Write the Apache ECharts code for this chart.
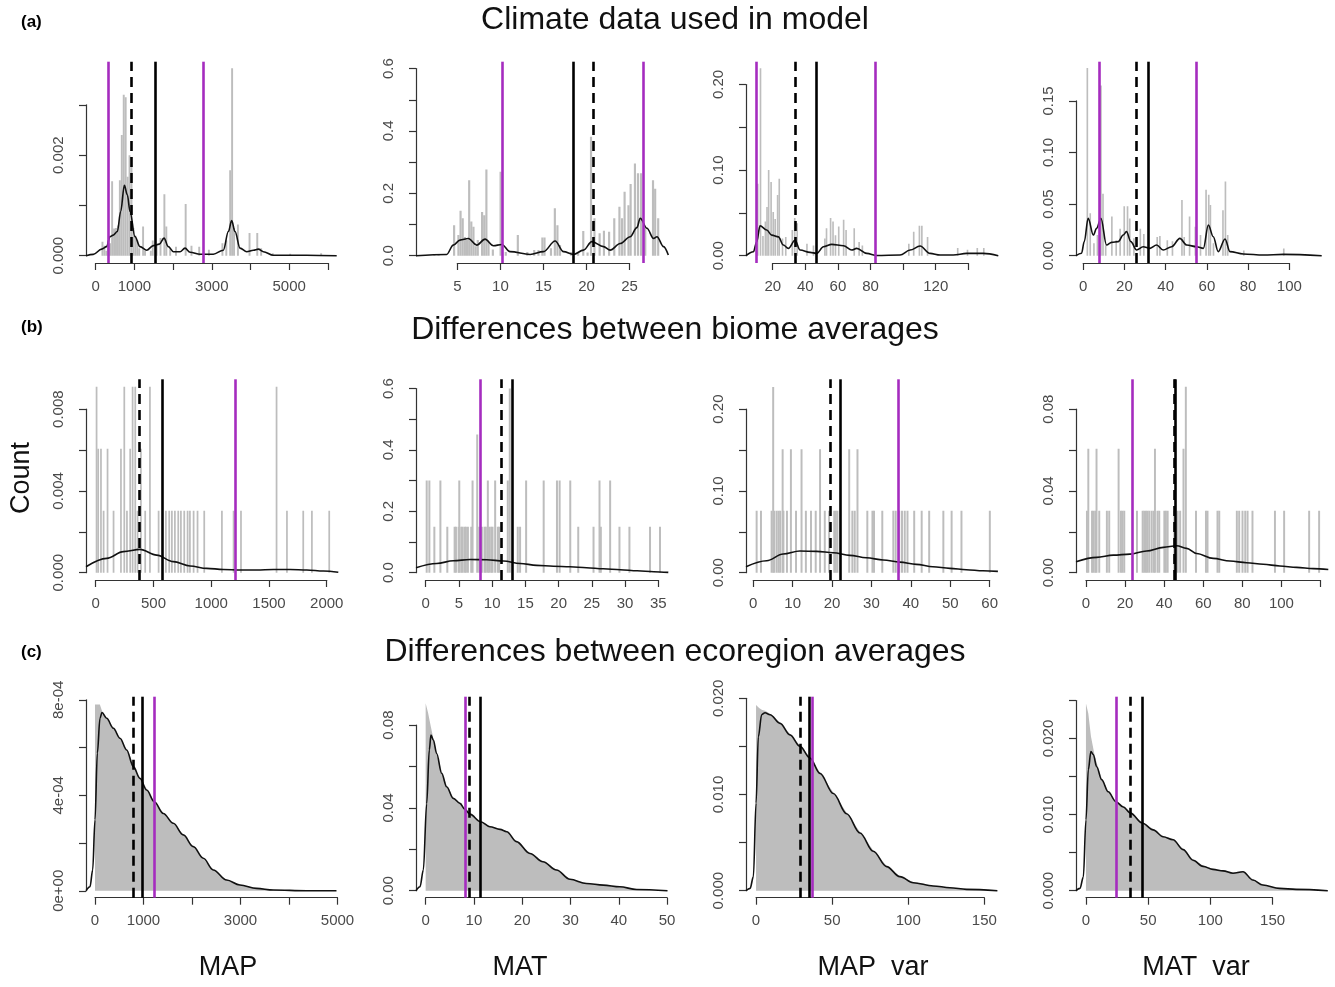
<!DOCTYPE html>
<html>
<head>
<meta charset="utf-8">
<script src="https://cdn.jsdelivr.net/npm/echarts@6/dist/echarts.min.js"></script>
<style>html,body{margin:0;padding:0;background:#fff}#c{width:1335px;height:987px}</style>
</head>
<body>
<div id="c"></div>
<script>
// ================= DATA =================
const rowTitles = ['Climate data used in model', 'Differences between biome averages', 'Differences between ecoregion averages'];
const rowTags = ['(a)', '(b)', '(c)'];
const varNames = ['MAP', 'MAT', 'MAP  var', 'MAT  var'];
const yTitle = 'Count';

// ---- row (a): histogram bins [start, density], bin widths, density curves
const histA1 = [[150,0.00028],[200,0.0002],[250,0.0001],[300,0.0003],[350,0.00025],[400,0.00148],[450,0.00054],[500,0.00055],[550,0.0006],[600,0.0015],[650,0.0024],[700,0.0032],[750,0.00315],[800,0.00157],[850,0.002],[900,0.0018],[950,0.00055],[1000,0.0004],[1050,0.00031],[1100,0.00015],[1200,0.00058],[1250,0.0001],[1400,0.0001],[1450,0.0003],[1550,0.0002],[1650,0.00035],[1750,0.00122],[1800,0.00058],[1900,0.00015],[2050,0.00018],[2300,0.00103],[2450,0.0002],[2650,0.00018],[2900,0.00012],[3250,0.00025],[3350,0.0003],[3450,0.0017],[3500,0.00373],[3550,0.00055],[3650,0.00062],[3950,0.00045],[4150,0.00045],[4250,0.00015],[4550,0.00005],[5000,0.00004],[5800,0.00005]];
const histA2 = [[2.2,0.004],[2.7,0.004],[4.5,0.098],[5.0,0.066],[5.25,0.144],[5.5,0.12],[5.75,0.06],[6.0,0.05],[6.25,0.242],[6.5,0.11],[6.75,0.093],[7.0,0.03],[7.25,0.05],[7.75,0.14],[8.0,0.13],[8.25,0.276],[8.5,0.045],[9.0,0.02],[9.9,0.269],[10.5,0.012],[11.9,0.066],[13.0,0.012],[13.8,0.018],[14.3,0.018],[14.75,0.058],[15.0,0.058],[15.75,0.024],[16.2,0.152],[16.5,0.098],[16.8,0.034],[18.1,0.012],[18.9,0.012],[19.5,0.079],[20.0,0.01],[20.4,0.381],[20.8,0.12],[21.4,0.072],[21.9,0.08],[22.5,0.077],[23.1,0.12],[23.7,0.157],[24.0,0.12],[24.3,0.205],[24.75,0.162],[25.0,0.23],[25.5,0.296],[25.85,0.264],[26.2,0.264],[26.7,0.088],[27.6,0.242],[27.85,0.215],[28.2,0.12]];
const histA3 = [[10.3,0.084],[12,0.219],[13.5,0.023],[15,0.04],[16,0.057],[17,0.1],[18.5,0.086],[19.8,0.051],[21,0.043],[22.5,0.071],[23.5,0.09],[25.5,0.02],[27.5,0.022],[31.5,0.03],[33,0.044],[34.5,0.038],[40.5,0.014],[44.5,0.012],[51.5,0.02],[52.5,0.032],[55,0.044],[56.5,0.04],[58,0.024],[60,0.034],[63,0.042],[64.5,0.03],[69.5,0.032],[72.5,0.016],[74.5,0.012],[103,0.014],[106,0.028],[109.5,0.035],[111,0.035],[114.5,0.022],[133,0.009],[139,0.007],[145,0.009],[149,0.009]];
const histA4 = [[1.6,0.182],[3.0,0.041],[4.8,0.012],[6.5,0.02],[8.2,0.165],[9.2,0.06],[10.5,0.01],[13.5,0.038],[15.6,0.015],[17.5,0.026],[19.5,0.048],[21.1,0.048],[22.2,0.036],[24.2,0.017],[27.3,0.026],[29,0.021],[35.5,0.018],[36.8,0.019],[40.4,0.015],[42.9,0.014],[47.5,0.054],[48.6,0.018],[51.2,0.038],[54,0.028],[56.5,0.02],[59.2,0.064],[60.5,0.059],[61.3,0.049],[62.8,0.012],[67.4,0.044],[68.6,0.072],[69.7,0.02],[77.5,0.005],[96.9,0.007]];
const binWA = [50, 0.25, 1.0, 0.8];

const densA1 = [[-250,0],[-60,0.000027],[155,0.00013],[284,0.00018],[370,0.00038],[456,0.00041],[560,0.00048],[646,0.00088],[741,0.0014],[818,0.00121],[887,0.00088],[1016,0.00038],[1146,0.00018],[1318,0.00011],[1490,0.0002],[1645,0.00023],[1766,0.00035],[1878,0.00018],[2007,0.00008],[2179,0.00008],[2308,0.00015],[2438,0.00007],[2696,0.00003],[3040,0.00003],[3299,0.00011],[3428,0.00048],[3514,0.0007],[3600,0.00048],[3730,0.00015],[3902,0.00008],[4074,0.00011],[4203,0.00013],[4332,0.00008],[4591,0.00001],[5452,0.00001],[6227,0]];
const densA2 = [[0.2,0],[3.76,0.004],[4.53,0.034],[5.31,0.05],[6.28,0.055],[7.25,0.034],[8.22,0.053],[9.19,0.032],[10.16,0.036],[11.12,0.013],[13.45,0.004],[15.0,0.013],[16.36,0.047],[17.33,0.013],[18.49,0.004],[19.65,0.018],[20.62,0.045],[21.98,0.029],[22.75,0.018],[23.91,0.039],[25.08,0.061],[25.85,0.09],[26.24,0.12],[27.02,0.088],[27.79,0.055],[28.18,0.061],[28.95,0.029],[29.5,0.002]];
const densA3 = [[3.6,0],[8.14,0.0047],[10.2,0.0163],[12.2,0.035],[16.3,0.03],[19.4,0.024],[23.5,0.022],[26.5,0.0125],[29.6,0.0086],[33.7,0.018],[36.8,0.0066],[42.9,0.0039],[47,0.0027],[51.1,0.0105],[56.2,0.0132],[63.4,0.0117],[68.5,0.0066],[71.5,0.0086],[77.7,0.0027],[83.8,0.0003],[98.1,0.0008],[104.3,0.0066],[110.4,0.0113],[116.5,0.0027],[122.7,0.0008],[130.8,0.0008],[139,0.0027],[149.2,0.0027],[158.4,0]];
const densA4 = [[-3.5,0],[-0.8,0.0023],[0.5,0.0136],[2.4,0.0362],[4.9,0.02],[6.5,0.0265],[8.6,0.0362],[11.3,0.0103],[13.8,0.0129],[17,0.0136],[19.4,0.02],[21,0.0233],[23.1,0.0136],[25.9,0.0055],[29.1,0.0087],[32.4,0.0071],[35.6,0.0103],[38.8,0.0055],[42.9,0.0087],[46.9,0.0168],[50.2,0.0103],[55,0.0087],[58.3,0.0071],[60.7,0.0297],[63.1,0.0184],[65.5,0.0039],[68.8,0.0162],[71.2,0.0039],[77.7,0.0016],[87.4,0.0006],[97.1,0.0013],[115.7,0]];

// ---- row (b)
const histB1 = [[0,0.0091],[14,0.00606],[38,0.00606],[61,0.00303],[95,0.00606],[147,0.00303],[211,0.00606],[240,0.0091],[263,0.00303],[291,0.00606],[312,0.0091],[335,0.0091],[355,0.00303],[384,0.00606],[421,0.00303],[462,0.0091],[537,0.00303],[600,0.00303],[629,0.00303],[652,0.00303],[678,0.00303],[707,0.00303],[730,0.00303],[759,0.00303],[788,0.00303],[808,0.00303],[840,0.00303],[874,0.00303],[932,0.00303],[1085,0.00303],[1186,0.00303],[1250,0.00303],[1558,0.0091],[1648,0.00303],[1789,0.00303],[1864,0.00303],[2014,0.00303]];
const histB2 = [[0,0.3],[0.4,0.3],[1.15,0.15],[2.06,0.3],[3.1,0.15],[4.2,0.15],[4.4,0.15],[4.8,0.15],[4.9,0.3],[5.2,0.15],[5.4,0.15],[5.7,0.15],[5.9,0.15],[6.2,0.15],[6.7,0.15],[6.9,0.3],[7.6,0.45],[7.9,0.15],[8.3,0.15],[8.7,0.15],[8.9,0.15],[9.2,0.3],[9.4,0.15],[9.7,0.15],[9.9,0.15],[10.3,0.3],[10.7,0.15],[10.9,0.15],[12.2,0.3],[12.5,0.6],[13.7,0.15],[14.05,0.15],[14.96,0.3],[17.6,0.3],[19.6,0.3],[20.0,0.3],[21.6,0.3],[22.8,0.15],[25.1,0.15],[26.0,0.3],[26.2,0.15],[27.6,0.3],[29.0,0.15],[30.5,0.15],[33.6,0.15],[35.1,0.15]];
const histB3 = [[0.6,0.0757],[1.7,0.0757],[4.4,0.0757],[4.8,0.227],[5.1,0.0757],[5.7,0.0757],[6.2,0.0757],[6.6,0.0757],[7.2,0.151],[7.4,0.0757],[8.3,0.0757],[9.3,0.151],[10.6,0.0757],[12.0,0.151],[13.1,0.0757],[14.4,0.0757],[15.6,0.0757],[16.7,0.151],[17.9,0.0757],[19.0,0.0757],[20.3,0.0757],[20.7,0.0757],[21.1,0.0757],[24.1,0.151],[24.9,0.0757],[25.5,0.0757],[26.2,0.151],[28.7,0.0757],[30.0,0.0757],[30.4,0.0757],[32.5,0.0757],[35.3,0.0757],[35.9,0.0757],[36.8,0.0757],[37.5,0.0757],[38.2,0.0757],[38.9,0.0757],[40.6,0.0757],[42.5,0.0757],[44.4,0.0757],[48.0,0.0757],[50.1,0.0757],[52.6,0.0757],[59.8,0.0757]];
const histB4 = [[0,0.0303],[0.7,0.0606],[2.6,0.0303],[3.4,0.0303],[4.3,0.0303],[4.9,0.0606],[6.3,0.0303],[10.2,0.0303],[11.4,0.0303],[16.2,0.0606],[17.4,0.0303],[18.2,0.0303],[19.1,0.0303],[25.6,0.0303],[28.5,0.0303],[29.3,0.0303],[30.2,0.0303],[31.0,0.0303],[31.9,0.0303],[33.1,0.0303],[34.1,0.0303],[34.8,0.0606],[36.1,0.0303],[37.0,0.0303],[39.6,0.0303],[40.4,0.0303],[41.3,0.0303],[44.7,0.0303],[46.4,0.0303],[47.7,0.0303],[49.4,0.0606],[50.6,0.0909],[55.8,0.0303],[60.9,0.0303],[61.7,0.0303],[66.8,0.0303],[67.7,0.0303],[76.7,0.0303],[77.9,0.0303],[79.6,0.0303],[81.0,0.0303],[82.2,0.0303],[84.7,0.0303],[96.2,0.0303],[100.9,0.0303],[113.7,0.0303],[118.8,0.0303]];
const binWB = [15, 0.3, 0.5, 1.0];

const densB1 = [[-84,0.00029],[95,0.0007],[240,0.00103],[384,0.00114],[528,0.00086],[672,0.00054],[817,0.00033],[961,0.00021],[1105,0.00016],[1250,0.00013],[1394,0.00013],[1538,0.00016],[1683,0.00016],[1827,0.00013],[1971,0.00008],[2100,0.00002]];
const densB2 = [[-1.46,0.0163],[1.66,0.03],[4.16,0.039],[6.67,0.043],[9.18,0.042],[11.7,0.038],[14.2,0.03],[16.7,0.024],[19.2,0.021],[21.7,0.0195],[24.2,0.0163],[26.7,0.013],[29.3,0.0098],[31.8,0.0065],[34.3,0.0033],[36.5,0.001]];
const densB3 = [[-1.86,0.0073],[3.4,0.0147],[7.6,0.0228],[11.8,0.0265],[16.1,0.0261],[20.3,0.0244],[24.5,0.0212],[28.7,0.0183],[33,0.0155],[37.2,0.013],[41.4,0.0102],[45.6,0.0073],[49.9,0.0053],[54.1,0.0037],[58.3,0.0024],[62.1,0.0016]];
const densB4 = [[-5.1,0.0054],[5.5,0.0075],[14,0.0086],[22.5,0.0091],[31,0.0106],[39.6,0.0124],[46.4,0.0132],[51.5,0.0119],[56.6,0.0094],[65.1,0.007],[73.7,0.0057],[82.2,0.0049],[90.7,0.0041],[99.2,0.0033],[107.8,0.0026],[116.3,0.002],[124,0.0016]];

// ---- row (c): fine histograms given as outline points [x, density]
const histC1 = [[0,0],[0,7.8e-4],[100,7.8e-4],[150,7.5e-4],[250,7.2e-4],[400,6.8e-4],[550,6.3e-4],[700,5.75e-4],[850,5.0e-4],[1000,4.5e-4],[1200,3.8e-4],[1400,3.28e-4],[1600,2.87e-4],[1800,2.4e-4],[2000,1.9e-4],[2200,1.42e-4],[2400,9.5e-5],[2700,4.8e-5],[3000,2.5e-5],[3300,1.2e-5],[3700,4e-6],[4300,1e-6],[4950,1e-6],[4950,0]];
const histC2 = [[0,0],[0,0.0905],[0.5,0.086],[1.1,0.079],[2,0.069],[3.3,0.058],[4.3,0.051],[5.7,0.045],[7.1,0.0425],[8.1,0.0395],[9.2,0.037],[11.4,0.0335],[13.3,0.031],[15.4,0.0298],[16.8,0.0287],[18.8,0.024],[21.6,0.0182],[24.3,0.0142],[27.1,0.0102],[29.9,0.0057],[33.3,0.0036],[36.8,0.0028],[40.2,0.002],[43.7,0.0007],[47,0.0002],[49.5,0.0001],[49.5,0]];
const histC3 = [[0,0],[0,0.0193],[2,0.019],[4,0.0188],[6,0.0187],[9.2,0.0184],[15.8,0.0175],[22.3,0.0163],[28.9,0.0151],[35.4,0.0139],[42,0.0123],[50.8,0.0102],[59.5,0.0081],[68.3,0.0061],[77,0.0042],[85.8,0.0026],[94.5,0.0015],[103.3,0.0009],[116.4,0.0005],[127.4,0.0003],[138.3,0.00015],[150,0.00005],[155,0.00002],[155,0]];
const histC4 = [[0,0],[0,0.0246],[1.9,0.0233],[4.0,0.0203],[7.2,0.0176],[11.3,0.0154],[12.6,0.0148],[17.9,0.0131],[24.1,0.0118],[30,0.0111],[35.8,0.0103],[45.2,0.009],[54,0.0081],[62,0.0072],[70,0.0068],[78.1,0.0055],[86.1,0.0041],[94.1,0.0033],[102.1,0.0029],[110.2,0.0027],[118.2,0.0024],[126.2,0.0026],[134.2,0.0015],[142.2,0.0008],[155.6,0.0003],[169,0.0002],[190,0.0001],[190,0]];

const densC1 = [[-185,0],[-103,1.7e-5],[-48,8.7e-5],[0,2.97e-4],[48,5.76e-4],[103,7.23e-4],[144,7.47e-4],[240,7.23e-4],[378,6.81e-4],[515,6.39e-4],[652,5.9e-4],[790,5.2e-4],[927,4.71e-4],[1065,4.22e-4],[1222,3.73e-4],[1408,3.24e-4],[1614,2.83e-4],[1820,2.34e-4],[2026,1.85e-4],[2232,1.36e-4],[2438,8.7e-5],[2713,4.5e-5],[2988,2.4e-5],[3331,1e-5],[3674,3e-6],[4361,0],[4979,0]];
const densC2 = [[-2.0,0],[-1.17,0.0019],[-0.48,0.01],[0.21,0.042],[0.76,0.068],[1.1,0.0752],[1.59,0.0728],[2.28,0.0663],[3.31,0.0567],[4.34,0.0502],[5.72,0.0446],[7.1,0.0422],[8.14,0.0393],[9.17,0.037],[11.38,0.0333],[13.3,0.0309],[15.4,0.0296],[16.8,0.0285],[18.8,0.0237],[21.6,0.018],[24.3,0.014],[27.1,0.01],[29.9,0.0055],[33.3,0.0035],[36.8,0.0027],[40.2,0.0019],[43.7,0.0006],[50.1,0]];
const densC3 = [[-6.6,0],[-3.9,0.00024],[-1.75,0.00146],[0,0.0091],[1.5,0.016],[3.7,0.0183],[5.9,0.0185],[9.2,0.0183],[15.8,0.0174],[22.3,0.0162],[28.9,0.015],[35.4,0.0138],[42,0.0122],[50.8,0.0101],[59.5,0.008],[68.3,0.006],[77,0.0041],[85.8,0.0025],[94.5,0.00146],[103.3,0.00083],[116.4,0.00049],[127.4,0.00031],[138.3,0.00014],[158.6,0]];
const densC4 = [[-8.0,0],[-4.8,0.0003],[-2.1,0.0018],[0,0.0093],[1.9,0.0159],[4.0,0.0183],[5.9,0.0179],[8.6,0.0163],[12.6,0.0146],[17.9,0.013],[24.1,0.0117],[30,0.011],[35.8,0.0102],[45.2,0.0089],[54,0.008],[62,0.0071],[70,0.0067],[78.1,0.0054],[86.1,0.004],[94.1,0.0032],[102.1,0.0028],[110.2,0.0026],[118.2,0.0023],[126.2,0.0025],[134.2,0.0014],[142.2,0.00075],[155.6,0.0003],[169,0.00018],[194.4,0]];

// ---- vertical reference lines (per row, per variable)
const dashedA = [930, 20.8, 33.7, 25.6];
const solidA  = [1550, 18.5, 46.6, 31.4];
const purpleA = [[326, 2780], [10.2, 26.6], [9.8, 83.2], [7.6, 55]];
const dashedB = [378, 11.4, 19.5, 45.0];
const solidB  = [577, 13.0, 22.2, 45.5];
const purpleB = [[1212], [8.2], [36.8], [23.9]];
const dashedC = [790, 9.0, 28.9, 35.9];
const solidC  = [975, 11.4, 34.8, 45.3];
const purpleC = [[1222], [8.1], [36.8], [24.1]];

// ---- axis ticks and labels ('' = tick without label)
const xTicksA = [[0,1000,2000,3000,4000,5000,6000],[5,10,15,20,25],[20,40,60,80,100,120,140],[0,20,40,60,80,100]];
const xLabsA  = [['0','1000','','3000','','5000',''],['5','10','15','20','25'],['20','40','60','80','','120',''],['0','20','40','60','80','100']];
const yTicksA = [[0,0.001,0.002,0.003],[0,0.1,0.2,0.3,0.4,0.5,0.6],[0,0.05,0.1,0.15,0.2],[0,0.05,0.1,0.15]];
const yLabsA  = [['0.000','','0.002',''],['0.0','','0.2','','0.4','','0.6'],['0.00','','0.10','','0.20'],['0.00','0.05','0.10','0.15']];
const xTicksB = [[0,500,1000,1500,2000],[0,5,10,15,20,25,30,35],[0,10,20,30,40,50,60],[0,20,40,60,80,100,120]];
const xLabsB  = [['0','500','1000','1500','2000'],['0','5','10','15','20','25','30','35'],['0','10','20','30','40','50','60'],['0','20','40','60','80','100','']];
const yTicksB = [[0,0.002,0.004,0.006,0.008],[0,0.1,0.2,0.3,0.4,0.5,0.6],[0,0.05,0.1,0.15,0.2],[0,0.02,0.04,0.06,0.08]];
const yLabsB  = [['0.000','','0.004','','0.008'],['0.0','','0.2','','0.4','','0.6'],['0.00','','0.10','','0.20'],['0.00','','0.04','','0.08']];
const xTicksC = [[0,1000,2000,3000,4000,5000],[0,10,20,30,40,50],[0,50,100,150],[0,50,100,150]];
const xLabsC  = [['0','1000','','3000','','5000'],['0','10','20','30','40','50'],['0','50','100','150'],['0','50','100','150']];
const yTicksC = [[0,0.0002,0.0004,0.0006,0.0008],[0,0.02,0.04,0.06,0.08],[0,0.005,0.01,0.015,0.02],[0,0.005,0.01,0.015,0.02,0.025]];
const yLabsC  = [['0e+00','','4e-04','','8e-04'],['0.00','','0.04','','0.08'],['0.000','','0.010','','0.020'],['0.000','','0.010','','0.020','']];

// ---- axis ranges (data space)
const xRangeA = [[-250,6235],[0.2,29.5],[3.6,158.4],[-3.5,115.7]];
const yRangeA = [[-0.000145,0.003858],[-0.0234,0.622],[-0.0085,0.2266],[-0.0071,0.188]];
const xRangeB = [[-84,2100],[-1.46,36.5],[-1.85,62.2],[-5.1,124]];
const yRangeB = [[-0.000357,0.00946],[-0.0238,0.63],[-0.0089,0.2364],[-0.00357,0.0946]];
const xRangeC = [[-185.6,5010],[-2.0,50.2],[-6.6,158.8],[-8.0,194.8]];
const yRangeC = [[-2.9e-5,8.13e-4],[-0.00338,0.0937],[-0.00073,0.02017],[-0.00092,0.0255]];

// ================= LAYOUT / STYLE =================
const rowTB = [[61.7,263],[379.3,580],[696.7,897.7]];
const colL = [86,416,746,1076];
const colR = [[337,668.3,998.3,1321.7],[338.3,668.3,998.3,1328.3],[338,668,997.7,1328.3]];
const PURPLE = '#a52cbf';
const AXIS_COL = '#333';
const LABEL_COL = '#4a4a4a';
const FONT = '"Liberation Sans", Arial, sans-serif';

const rows = [
  {hist:[histA1,histA2,histA3,histA4], bw:binWA, dens:[densA1,densA2,densA3,densA4], d:dashedA, s:solidA, p:purpleA, xt:xTicksA, xl:xLabsA, yt:yTicksA, yl:yLabsA, xr:xRangeA, yr:yRangeA, kind:'bars'},
  {hist:[histB1,histB2,histB3,histB4], bw:binWB, dens:[densB1,densB2,densB3,densB4], d:dashedB, s:solidB, p:purpleB, xt:xTicksB, xl:xLabsB, yt:yTicksB, yl:yLabsB, xr:xRangeB, yr:yRangeB, kind:'bars'},
  {hist:[histC1,histC2,histC3,histC4], bw:null, dens:[densC1,densC2,densC3,densC4], d:dashedC, s:solidC, p:purpleC, xt:xTicksC, xl:xLabsC, yt:yTicksC, yl:yLabsC, xr:xRangeC, yr:yRangeC, kind:'area'}
];

function labeler(ticks, labs) {
  const step = ticks[1] - ticks[0];
  return function (v) {
    for (let k = 0; k < ticks.length; k++) if (Math.abs(ticks[k] - v) < step * 1e-3) return labs[k];
    return '';
  };
}

const grids = [], xAxes = [], yAxes = [], series = [];
const axisLineStyle = {color: AXIS_COL, width: 1.2};

rows.forEach((row, r) => {
  const [T, B] = rowTB[r];
  for (let c = 0; c < 4; c++) {
    const L = colL[c], R = colR[r][c];
    const xr = row.xr[c], yr = row.yr[c];
    const pxX = v => L + (v - xr[0]) / (xr[1] - xr[0]) * (R - L);
    const pxY = v => B - (v - yr[0]) / (yr[1] - yr[0]) * (B - T);

    // main data grid
    const gi = grids.length;
    grids.push({left: L, top: T, width: R - L, height: B - T});
    xAxes.push({type: 'value', gridIndex: gi, min: xr[0], max: xr[1], show: false});
    yAxes.push({type: 'value', gridIndex: gi, min: yr[0], max: yr[1], show: false});
    const xi = xAxes.length - 1, yi = yAxes.length - 1;

    // histogram
    if (row.kind === 'bars') {
      const bw = row.bw[c];
      series.push({
        type: 'custom', xAxisIndex: xi, yAxisIndex: yi, silent: true, clip: true, z: 1,
        data: row.hist[c].map(d => [d[0], d[0] + bw, d[1]]),
        encode: {x: [0, 1], y: 2},
        renderItem: function (params, api) {
          const a = api.coord([api.value(0), api.value(2)]);
          const b = api.coord([api.value(1), 0]);
          return {type: 'rect', shape: {x: a[0], y: a[1], width: Math.max(b[0] - a[0], 1.3), height: b[1] - a[1]},
                  style: {fill: '#bdbdbd'}};
        }
      });
    } else {
      series.push({
        type: 'line', xAxisIndex: xi, yAxisIndex: yi, silent: true, z: 1,
        data: row.hist[c], symbol: 'none', smooth: false,
        lineStyle: {width: 0, color: '#bdbdbd'}, areaStyle: {color: '#bdbdbd', opacity: 1}
      });
    }

    // reference lines
    const ml = [];
    ml.push({xAxis: row.d[c], lineStyle: {color: '#000', width: 2.6, type: [10, 6]}});
    ml.push({xAxis: row.s[c], lineStyle: {color: '#000', width: 2.6, type: 'solid'}});
    row.p[c].forEach(v => ml.push({xAxis: v, lineStyle: {color: PURPLE, width: 2.6, type: 'solid'}}));

    // density curve (carries the reference lines)
    series.push({
      type: 'line', xAxisIndex: xi, yAxisIndex: yi, silent: true, z: 3,
      data: row.dens[c], symbol: 'none', smooth: 0.35, smoothMonotone: 'x',
      lineStyle: {color: '#111', width: 1.6},
      markLine: {silent: true, symbol: ['none', 'none'], label: {show: false}, animation: false, data: ml}
    });

    // R-style x axis (spans first..last tick)
    const xt = row.xt[c];
    const x0 = pxX(xt[0]), x1 = pxX(xt[xt.length - 1]);
    const gx = grids.length;
    grids.push({left: x0, top: B - 10, width: x1 - x0, height: 10});
    xAxes.push({
      type: 'value', gridIndex: gx, position: 'bottom', min: xt[0], max: xt[xt.length - 1], interval: xt[1] - xt[0],
      axisLine: {show: true, onZero: false, lineStyle: axisLineStyle},
      axisTick: {show: true, length: 7, lineStyle: axisLineStyle},
      splitLine: {show: false},
      axisLabel: {show: true, margin: 16, color: LABEL_COL, fontSize: 15, fontFamily: FONT, formatter: labeler(xt, row.xl[c])}
    });
    yAxes.push({type: 'value', gridIndex: gx, min: 0, max: 1, show: false});

    // R-style y axis
    const yt = row.yt[c];
    const y0 = pxY(yt[0]), y1 = pxY(yt[yt.length - 1]);
    const gy = grids.length;
    grids.push({left: L, top: y1, width: 10, height: y0 - y1});
    xAxes.push({type: 'value', gridIndex: gy, min: 0, max: 1, show: false});
    yAxes.push({
      type: 'value', gridIndex: gy, position: 'left', min: yt[0], max: yt[yt.length - 1], interval: yt[1] - yt[0],
      axisLine: {show: true, onZero: false, lineStyle: axisLineStyle},
      axisTick: {show: true, length: 7, lineStyle: axisLineStyle},
      splitLine: {show: false},
      axisLabel: {show: true, rotate: 90, margin: 20, color: LABEL_COL, fontSize: 15, fontFamily: FONT, formatter: labeler(yt, row.yl[c])}
    });
  }
});

// text elements
const titleY = [20, 330, 652];
const tagY = [22, 327, 652];
const varX = [228, 520, 873, 1196];
const graphic = [];
rowTitles.forEach((t, i) => {
  graphic.push({type: 'text', x: 675, y: titleY[i], style: {text: t, font: '32px ' + FONT, fill: '#111', textAlign: 'center', textVerticalAlign: 'middle'}});
  graphic.push({type: 'text', x: 21, y: tagY[i], style: {text: rowTags[i], font: 'bold 17px ' + FONT, fill: '#000', textAlign: 'left', textVerticalAlign: 'middle'}});
});
varNames.forEach((v, i) => {
  graphic.push({type: 'text', x: varX[i], y: 968, style: {text: v, font: '27px ' + FONT, fill: '#111', textAlign: 'center', textVerticalAlign: 'middle'}});
});
graphic.push({type: 'text', x: 22, y: 478, rotation: Math.PI / 2, style: {text: yTitle, font: '27px ' + FONT, fill: '#111', textAlign: 'center', textVerticalAlign: 'middle'}});

const chart = echarts.init(document.getElementById('c'));
chart.setOption({
  animation: false,
  backgroundColor: '#fff',
  grid: grids, xAxis: xAxes, yAxis: yAxes, series: series, graphic: graphic
});
</script>
</body>
</html>
